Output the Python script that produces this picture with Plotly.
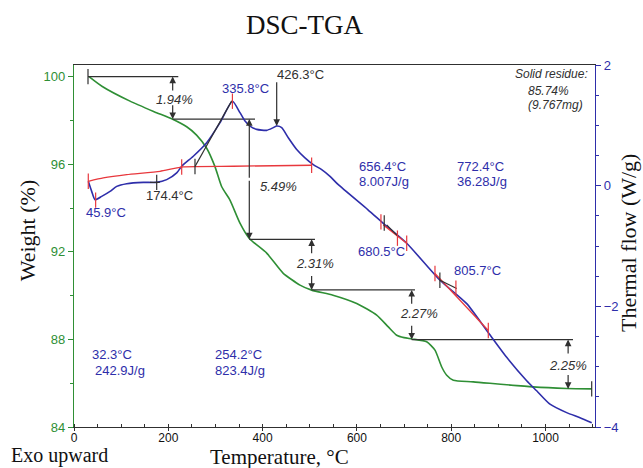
import plotly.graph_objects as go

# ---------------- data ----------------
tga_temp = [31.8, 60, 118.8, 170, 209.3, 239, 260, 281.4, 299, 313.3, 330.8, 352, 371.8, 408.7,
            443.3, 479.3, 504, 549.3, 599.6, 642, 666.6, 684.4, 700, 716.2, 748, 765.6, 779.9,
            790.5, 804.5, 846.9, 973.5, 1045, 1098]
tga_weight = [100.0, 99.55, 98.88, 98.4, 98.05, 97.71, 97.33, 96.73, 95.89, 94.97, 94.36, 93.31,
              92.61, 91.94, 91.03, 90.48, 90.25, 90.02, 89.64, 89.11, 88.57, 88.19, 88.08, 88.02,
              87.89, 87.51, 86.74, 86.36, 86.13, 86.06, 85.83, 85.76, 85.74]

dsc_temp = [30.3, 37.5, 44.5, 58.7, 76.4, 90.6, 111.8, 147, 175.4, 196.6, 217.8, 228.4, 253,
            281.4, 309.7, 336, 352, 362.7, 373.3, 387.5, 408.7, 422.7, 429.9, 440.5, 454.5, 472.3,
            489.9, 507.5, 525.3, 543, 560, 623.5, 659.6, 705.6, 776.2, 832.9, 875.3, 917.7, 960.1,
            981.3, 1009.5, 1044.9, 1073.2, 1098]
dsc_flow = [0.072, -0.095, -0.233, -0.178, -0.095, -0.012, 0.033, 0.055, 0.055, 0.1, 0.212, 0.322,
            0.488, 0.712, 1.045, 1.40, 1.21, 1.07, 0.988, 0.933, 0.917, 0.962, 0.988, 0.962, 0.795,
            0.6, 0.462, 0.35, 0.267, 0.155, 0.02, -0.4, -0.65, -0.955, -1.567, -1.955, -2.4, -2.845,
            -3.233, -3.4, -3.622, -3.762, -3.845, -3.928]

# red integration baselines (None separates segments)
base_temp = [30.3, 62.1, 111.8, 182.4, 231.8, 337.9, 504.1, None, 656, 705.6, None, 765.6, 878.7]
base_flow = [0.072, 0.128, 0.183, 0.238, 0.312, 0.322, 0.338, None, -0.65, -0.955, None, -1.455, -2.40]

# black tangent / onset lines on DSC
tang_temp = [161, 182, None, 256.6, 334.5, None, 663.2, 687.8, None, 776.2, 811.7]
tang_flow = [0.055, 0.055, None, 0.317, 1.405, None, -0.65, -0.845, None, -1.567, -1.705]

red_tick_temp = [30.3, 45.9, 228.4, 336, 504, 651, 686, 705.6, 765.6, 810, 878.7]
red_tick_flow = [0.072, -0.24, 0.31, 1.40, 0.338, -0.6, -0.87, -0.955, -1.455, -1.70, -2.40]
blk_tick_temp = [175.4, 256.6, 658, 776]
blk_tick_flow = [0.055, 0.317, -0.62, -1.567]

# TGA steps
mass_losses = [1.94, 5.49, 2.31, 2.27, 2.25]
step_line_start = [29.7, 209.3, 371.8, 504, 716.2]
step_line_end = [221.2, 383.9, 511.1, 723.2, 1058.3]
step_arrow_temp = [209.3, 371.8, 504, 716.2, 1048]
step_label_temp = [214, 433, 511, 732, 1048]
step_label_weight = [98.97, 95.0, 91.48, 89.2, 86.82]

residue_pct = 85.74
residue_mg = 9.767

# DSC labels: (text, T, F, xanchor)
dsc_labels = [
    ("335.8°C", 362.7, 1.61, "center"),
    ("45.9°C", 67.9, -0.45, "center"),
    ("680.5°C", 653.2, -1.095, "center"),
    ("805.7°C", 856.8, -1.41, "center"),
    ("656.4°C", 600.2, 0.317, "left"),
    ("8.007J/g", 600.2, 0.067, "left"),
    ("772.4°C", 808.0, 0.317, "left"),
    ("36.28J/g", 808.0, 0.067, "left"),
]
dsc_black_labels = [
    ("174.4°C", 201.5, -0.167),
    ("426.3°C", 481.4, 1.85),
]
# enthalpy labels placed on weight axis
tga_blue_labels = [
    ("32.3°C", 33.9, 87.32),
    ("242.9J/g", 40.3, 86.59),
    ("254.2°C", 294.8, 87.32),
    ("823.4J/g", 294.8, 86.59),
]

GREEN = "#2f8f35"
BLUE = "#2e2eaa"
RED = "#e8383d"
BLACK = "#303030"
SANS = "Liberation Sans, Arial, sans-serif"
SERIF = "Liberation Serif, Times New Roman, serif"


def tick_marker(color):
    return dict(symbol="line-ns-open", size=11, color=color, line=dict(color=color, width=1.2))


fig = go.Figure()

fig.add_trace(go.Scatter(x=tga_temp, y=tga_weight, mode="lines",
                         line=dict(color=GREEN, width=1.6, shape="spline", smoothing=0.6),
                         yaxis="y", showlegend=False))

# step dimension lines
levels = [100.0]
for d in mass_losses:
    levels.append(round(levels[-1] - d, 2))
sx, sy = [], []
for i in range(len(mass_losses)):
    sx += [step_line_start[i], step_line_end[i], None]
    sy += [levels[i], levels[i], None]
fig.add_trace(go.Scatter(x=sx, y=sy, mode="lines", line=dict(color=BLACK, width=1.2),
                         yaxis="y", showlegend=False))
fig.add_trace(go.Scatter(x=[step_line_start[0], tga_temp[-1]], y=[levels[0], levels[-1]],
                         mode="markers", marker=tick_marker(BLACK),
                         yaxis="y", showlegend=False))

fig.add_trace(go.Scatter(x=dsc_temp, y=dsc_flow, mode="lines",
                         line=dict(color=BLUE, width=1.6, shape="spline", smoothing=0.6),
                         yaxis="y2", showlegend=False))
fig.add_trace(go.Scatter(x=base_temp, y=base_flow, mode="lines",
                         line=dict(color=RED, width=1.3, shape="spline", smoothing=0.5),
                         yaxis="y2", showlegend=False, connectgaps=False))
fig.add_trace(go.Scatter(x=tang_temp, y=tang_flow, mode="lines",
                         line=dict(color=BLACK, width=1.2),
                         yaxis="y2", showlegend=False, connectgaps=False))
fig.add_trace(go.Scatter(x=red_tick_temp, y=red_tick_flow, mode="markers",
                         marker=tick_marker(RED), yaxis="y2", showlegend=False))
fig.add_trace(go.Scatter(x=blk_tick_temp, y=blk_tick_flow, mode="markers",
                         marker=tick_marker(BLACK), yaxis="y2", showlegend=False))

ann = []
# mass loss arrows and labels
for i, d in enumerate(mass_losses):
    up, lo = levels[i], levels[i + 1]
    xa = step_arrow_temp[i]
    if d > 4:
        t_up = t_lo = (up + lo) / 2
    else:
        t_up, t_lo = up - 0.7, lo + 0.7
    for tip, tail in ((up, t_up), (lo, t_lo)):
        ann.append(dict(x=xa, y=tip, ax=xa, ay=tail, xref="x", yref="y", axref="x", ayref="y",
                        text="", showarrow=True, arrowhead=2, arrowsize=1.1, arrowwidth=1.2,
                        arrowcolor=BLACK, standoff=0, startstandoff=0))
    ann.append(dict(x=step_label_temp[i], y=step_label_weight[i], xref="x", yref="y",
                    text=f"<i>{d:.2f}%</i>", showarrow=False, yanchor="middle",
                    font=dict(family=SANS, size=13, color=BLACK)))

# 426.3 arrow
ann.append(dict(x=429.9, y=0.99, ax=429.9, ay=1.74, xref="x", yref="y2", axref="x", ayref="y2",
                text="", showarrow=True, arrowhead=2, arrowsize=1.1, arrowwidth=1.2,
                arrowcolor=BLACK, standoff=0))

for t, x, y, xa in dsc_labels:
    ann.append(dict(x=x, y=y, xref="x", yref="y2", text=t, showarrow=False, xanchor=xa,
                    yanchor="middle", font=dict(family=SANS, size=13, color=BLUE)))
for t, x, y in dsc_black_labels:
    ann.append(dict(x=x, y=y, xref="x", yref="y2", text=t, showarrow=False, yanchor="middle",
                    font=dict(family=SANS, size=13, color=BLACK)))
for t, x, y in tga_blue_labels:
    ann.append(dict(x=x, y=y, xref="x", yref="y", text=t, showarrow=False, xanchor="left",
                    yanchor="middle", font=dict(family=SANS, size=13, color=BLUE)))

# solid residue
ann.append(dict(x=1094, y=100.1, xref="x", yref="y", text="<i>Solid residue:</i>", xanchor="right",
                yanchor="middle", showarrow=False, font=dict(family=SANS, size=12, color=BLACK)))
ann.append(dict(x=1007, y=99.35, xref="x", yref="y", text=f"<i>{residue_pct:.2f}%</i>",
                yanchor="middle", showarrow=False, font=dict(family=SANS, size=12, color=BLACK)))
ann.append(dict(x=1022, y=98.7, xref="x", yref="y", text=f"<i>({residue_mg:.3f}mg)</i>",
                yanchor="middle", showarrow=False, font=dict(family=SANS, size=12, color=BLACK)))

# titles
ann.append(dict(x=0.443, y=1.11, xref="paper", yref="paper", text="DSC-TGA", showarrow=False,
                xanchor="center", yanchor="middle",
                font=dict(family=SERIF, size=27, color="#111")))
ann.append(dict(x=-0.09, y=0.541, xref="paper", yref="paper", text="Weight (%)", textangle=-90,
                xanchor="center", yanchor="middle",
                showarrow=False, font=dict(family=SERIF, size=22, color="#111")))
ann.append(dict(x=1.063, y=0.508, xref="paper", yref="paper", text="Thermal flow (W/g)",
                xanchor="center", yanchor="middle",
                textangle=-90, showarrow=False, font=dict(family=SERIF, size=22, color="#111")))
ann.append(dict(x=0.395, y=-0.082, xref="paper", yref="paper", text="Temperature, °C",
                xanchor="center", yanchor="middle",
                showarrow=False, font=dict(family=SERIF, size=21, color="#111")))
ann.append(dict(x=-0.125, y=-0.08, xref="paper", yref="paper", text="Exo upward", xanchor="left",
                yanchor="middle",
                showarrow=False, font=dict(family=SERIF, size=20, color="#111")))

fig.update_layout(
    width=643, height=468, autosize=False,
    margin=dict(l=74, r=48, t=65, b=41),
    paper_bgcolor="white", plot_bgcolor="white",
    showlegend=False,
    annotations=ann,
    xaxis=dict(range=[0, 1105], tick0=0, dtick=200, showgrid=False, zeroline=False,
               showline=True, linecolor=BLACK, linewidth=1.2, mirror=True,
               ticks="outside", ticklen=3, tickcolor=BLACK, ticklabelstandoff=-4,
               tickfont=dict(family=SANS, size=12, color="#111"),
               minor=dict(dtick=50, ticks="inside", ticklen=3, tickcolor=BLACK)),
    yaxis=dict(range=[84, 100.53], tick0=84, dtick=4, showgrid=False, zeroline=False,
               showline=True, linecolor=GREEN, linewidth=1.2,
               ticks="outside", ticklen=5, tickcolor=GREEN,
               tickfont=dict(family=SANS, size=13, color=GREEN),
               minor=dict(dtick=2, ticks="outside", ticklen=3, tickcolor=GREEN)),
    yaxis2=dict(range=[-4, 2], tick0=-4, dtick=2, overlaying="y", side="right",
                showgrid=False, zeroline=False,
                showline=True, linecolor=BLUE, linewidth=1.2,
                ticks="outside", ticklen=5, tickcolor=BLUE,
                tickfont=dict(family=SANS, size=13, color=BLUE),
                minor=dict(dtick=0.5, ticks="outside", ticklen=3, tickcolor=BLUE)),
)

fig.write_html("out.html")
